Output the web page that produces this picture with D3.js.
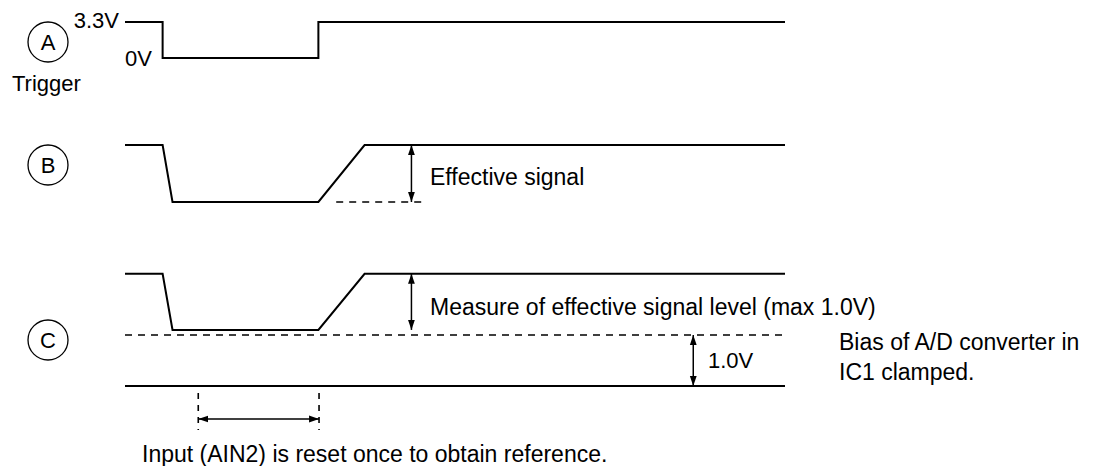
<!DOCTYPE html>
<html>
<head>
<meta charset="utf-8">
<title>Trigger timing</title>
<style>
body { margin: 0; background: #fff; }
text {
    font-family: Arial, "Liberation Sans", Helvetica, sans-serif;
    font-size: 23px;
    fill: #000;
}
.sig { fill: none; stroke: #000; stroke-width: 2; stroke-linejoin: miter; }
.dash { fill: none; stroke: #000; stroke-width: 1.6; stroke-dasharray: 7,6; }
.vdash { fill: none; stroke: #000; stroke-width: 1.6; stroke-dasharray: 6,6; }
.arrow { fill: none; stroke: #000; stroke-width: 1.5; }
.badge { fill: none; stroke: #000; stroke-width: 1.3; }
</style>
</head>
<body>
<div id="chart"></div>
<script src="https://cdn.jsdelivr.net/npm/d3@7"></script>
<script>
// time in arbitrary units (0..100), levels in volts / relative units
var rowLabels = ["A", "B", "C"];
var levelLabels = ["3.3V", "0V"];
var trigger = [[0, 3.3], [5.7, 3.3], [5.7, 0], [29.3, 0], [29.3, 3.3], [100, 3.3]];
var signalB = [[0, 1], [5.7, 1], [7.2, 0], [29.3, 0], [36.3, 1], [100, 1]];
var signalC = [[0, 2.2], [5.7, 2.2], [7.2, 1.1], [29.3, 1.1], [36.3, 2.2], [100, 2.2]];
var biasLevel = 1.0;
var groundLevel = 0;
var resetWindow = [11.1, 29.4];
var effDash = [32, 45.5];
var measureT = 43.4;
var clampT = 86.1;
var notes = {
    trigger: "Trigger",
    effective: "Effective signal",
    measure: "Measure of effective signal level (max 1.0V)",
    clamp: "1.0V",
    bias1: "Bias of A/D converter in",
    bias2: "IC1 clamped.",
    reset: "Input (AIN2) is reset once to obtain reference."
};

(function() {
    var width = 1094, height = 466;

    var svg = d3.select("#chart").append("svg")
        .attr("width", width)
        .attr("height", height);

    var defs = svg.append("defs");
    function marker(id, orient) {
        defs.append("marker")
            .attr("id", id)
            .attr("markerUnits", "userSpaceOnUse")
            .attr("viewBox", "0 -4 10 8")
            .attr("refX", 10)
            .attr("refY", 0)
            .attr("markerWidth", 10)
            .attr("markerHeight", 8)
            .attr("orient", orient)
          .append("path")
            .attr("d", "M0,-3.4L10,0L0,3.4Z")
            .attr("fill", "#000");
    }
    marker("head", "auto");
    marker("tail", "auto-start-reverse");

    var x = d3.scaleLinear().domain([0, 100]).range([125, 785]);
    var yA = d3.scaleLinear().domain([0, 3.3]).range([58, 22]);
    var yB = d3.scaleLinear().domain([0, 1]).range([202, 145]);
    var yC = d3.scaleLinear().domain([0, 1]).range([386, 335]);

    function line(ys) {
        return d3.line().x(function(d) { return x(d[0]); }).y(function(d) { return ys(d[1]); });
    }

    function hline(cls, t0, t1, y) {
        svg.append("line").attr("class", cls)
            .attr("x1", x(t0)).attr("x2", x(t1))
            .attr("y1", y).attr("y2", y);
    }
    function varrow(t, y1, y2) {
        svg.append("line").attr("class", "arrow")
            .attr("x1", x(t)).attr("x2", x(t))
            .attr("y1", y1).attr("y2", y2)
            .attr("marker-start", "url(#tail)")
            .attr("marker-end", "url(#head)");
    }

    // row badges
    var badgeY = [42, 165, 340];
    rowLabels.forEach(function(lbl, i) {
        svg.append("circle").attr("class", "badge")
            .attr("cx", 48).attr("cy", badgeY[i]).attr("r", 20);
        svg.append("text")
            .attr("x", 48).attr("y", badgeY[i] + 8)
            .attr("text-anchor", "middle")
            .style("font-size", "22px")
            .text(lbl);
    });

    // A: trigger
    svg.append("path").attr("class", "sig").attr("d", line(yA)(trigger));
    svg.append("text").attr("x", 119).attr("y", 28).attr("text-anchor", "end")
        .style("font-size", "22px").text(levelLabels[0]);
    svg.append("text").attr("x", 152).attr("y", 66).attr("text-anchor", "end")
        .style("font-size", "22px").text(levelLabels[1]);
    svg.append("text").attr("x", 12).attr("y", 91).style("font-size", "22px").text(notes.trigger);

    // B
    svg.append("path").attr("class", "sig").attr("d", line(yB)(signalB));
    hline("dash", effDash[0], effDash[1], yB(0));
    varrow(measureT, yB(1), yB(0));
    svg.append("text").attr("x", 430).attr("y", 185).text(notes.effective);

    // C
    svg.append("path").attr("class", "sig").attr("d", line(yC)(signalC));
    hline("dash", 0, 100, yC(biasLevel));
    hline("sig", 0, 100, yC(groundLevel));
    varrow(measureT, yC(2.2), yC(1.1));
    varrow(clampT, yC(biasLevel), yC(groundLevel));
    svg.append("text").attr("x", 430).attr("y", 315).text(notes.measure);
    svg.append("text").attr("x", 708).attr("y", 368).style("font-size", "22px").text(notes.clamp);
    svg.append("text").attr("x", 839).attr("y", 350).text(notes.bias1);
    svg.append("text").attr("x", 839).attr("y", 380).text(notes.bias2);

    // reset window
    resetWindow.forEach(function(t) {
        svg.append("line").attr("class", "vdash")
            .attr("x1", x(t)).attr("x2", x(t))
            .attr("y1", 393).attr("y2", 430);
    });
    svg.append("line").attr("class", "arrow")
        .attr("x1", x(resetWindow[0])).attr("x2", x(resetWindow[1]))
        .attr("y1", 419).attr("y2", 419)
        .attr("marker-start", "url(#tail)")
        .attr("marker-end", "url(#head)");
    svg.append("text").attr("x", 142).attr("y", 462).text(notes.reset);
})();
</script>
</body>
</html>
